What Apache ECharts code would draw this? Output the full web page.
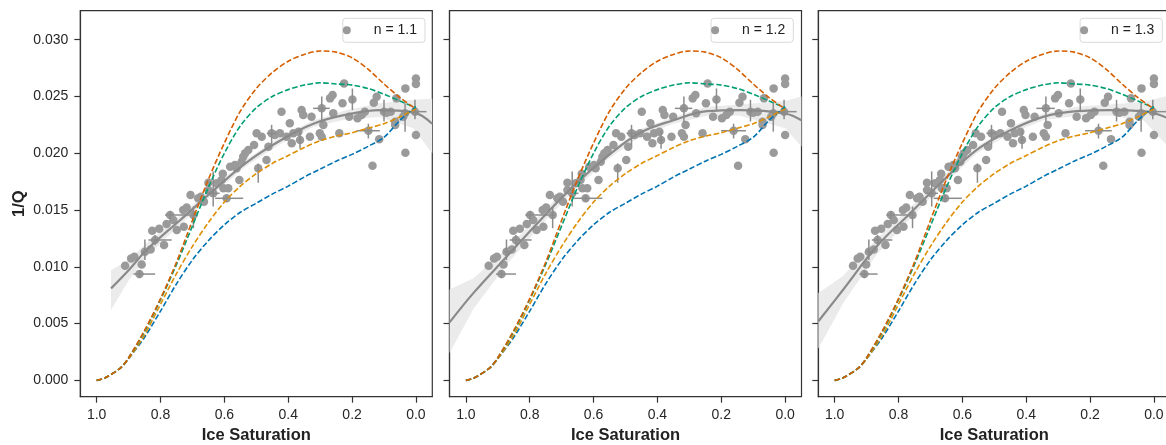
<!DOCTYPE html>
<html><head><meta charset="utf-8">
<script src="https://cdn.jsdelivr.net/npm/echarts@6/dist/echarts.min.js"></script>
<style>html,body{margin:0;padding:0;background:#fff}#c{width:1166px;height:445px}</style>
</head><body><div id="c"></div>
<script>
// ---------------- data ----------------
const nValues = [1.1, 1.2, 1.3];
const xTicks = [0, 0.2, 0.4, 0.6, 0.8, 1.0];
const yTicks = [0, 0.005, 0.010, 0.015, 0.020, 0.025, 0.030];

// measured points: ice saturation as plotted for n = 1.1, and 1/Q
const pointS = [0.911,0.892,0.882,0.859,0.866,0.849,0.831,0.826,0.804,0.817,0.789,0.781,0.770,0.760,0.749,0.727,0.729,0.718,0.706,0.697,
  0.682,0.674,0.664,0.650,0.650,0.635,0.624,0.609,0.605,0.603,0.593,0.588,0.582,0.567,0.562,0.553,0.546,0.541,0.535,0.525,
  0.507,0.499,0.494,0.483,0.468,0.462,0.452,0.442,0.426,0.421,0.405,0.395,0.389,0.384,0.368,0.363,0.358,0.353,0.327,0.332,
  0.295,0.290,0.301,0.295,0.269,0.261,0.259,0.240,0.230,0.225,0.209,0.199,0.183,0.170,0.160,0.149,0.136,0.132,0.123,0.115,
  0.100,0.092,0.079,0.065,0.065,0.061,0.033,0.033,0.034,0.000,0.000,0.000,0.003,0.040];
const pointQ = [0.01010,0.01074,0.01089,0.01021,0.00936,0.01133,0.01153,0.01318,0.01335,0.01236,0.01192,0.01377,0.01456,0.01412,0.01324,0.01353,0.01500,0.01523,0.01632,0.01456,
  0.01603,0.01617,0.01573,0.01740,0.01676,0.01647,0.01735,0.01764,0.01820,0.01691,0.01603,0.01691,0.01881,0.01896,0.01867,0.01764,0.01925,0.01969,0.01999,0.02028,
  0.02072,0.02175,0.01867,0.02145,0.01940,0.02057,0.02175,0.02160,0.02175,0.02366,0.02145,0.02263,0.02087,0.02175,0.02190,0.02116,0.02380,0.02336,0.02322,0.02145,
  0.02395,0.02248,0.02175,0.02145,0.02483,0.02512,0.02351,0.02175,0.02439,0.02615,0.02322,0.02474,0.02307,0.02336,0.02366,0.02198,0.01890,0.02445,0.02498,0.02122,
  0.02366,0.02357,0.02366,0.02278,0.02248,0.02483,0.02571,0.02005,0.02351,0.02659,0.02609,0.02160,0.02366,0.02322];

// error bars (point index, saturation range, 1/Q range)
const errIndex = [4, 5, 9, 12, 19, 25, 30, 42, 46, 55, 60, 71, 75, 80, 88, 92];
const errSMin  = [0.817,0.840,0.765,0.708,0.690,0.615,0.541,0.494,0.437,0.358,0.270,0.199,0.113,0.095,0.034,-0.033];
const errSMax  = [0.885,0.858,0.838,0.786,0.704,0.655,0.629,0.494,0.467,0.368,0.322,0.199,0.186,0.105,0.034,0.029];
const errQMin  = [0.0090,0.0106,0.0119,0.0142,0.0134,0.0153,0.0157,0.0174,0.0207,0.0204,0.0227,0.0238,0.0213,0.0228,0.0219,0.0230];
const errQMax  = [0.0097,0.0124,0.0128,0.0149,0.0153,0.0184,0.0163,0.0191,0.0225,0.0220,0.0250,0.0257,0.0226,0.0247,0.0244,0.0247];

// model curves (same in every panel)
const curveS = [1.0,0.975,0.925,0.9,0.85,0.8,0.75,0.7,0.65,0.6,0.55,0.5,0.45,0.4,0.35,0.3,0.25,0.2,0.15,0.1,0.05,0.0];
const curveBlue   = [0,0.0002,0.0011,0.0019,0.0038,0.0061,0.0085,0.0106,0.0123,0.0137,0.0148,0.0156,0.0164,0.0171,0.0179,0.0186,0.0193,0.0199,0.0206,0.0214,0.0229,0.0241];
const curveOrange = [0,0.0002,0.0011,0.0019,0.0040,0.0067,0.0094,0.0118,0.0139,0.0157,0.0171,0.0182,0.0191,0.0198,0.0205,0.0211,0.0215,0.0218,0.0222,0.0226,0.0232,0.0239];
const curveGreen  = [0,0.0002,0.0011,0.0020,0.0043,0.0071,0.0102,0.0136,0.0170,0.0200,0.0224,0.0240,0.0250,0.0256,0.0260,0.0262,0.0261,0.0260,0.0257,0.0252,0.0246,0.0240];
const curveRed    = [0,0.0002,0.0011,0.0020,0.0044,0.0072,0.0104,0.0141,0.0177,0.0209,0.0237,0.0257,0.0271,0.0281,0.0287,0.0290,0.0289,0.0284,0.0274,0.0261,0.0249,0.0239];

// regression line and confidence band per panel
const fit1S  = [0.955,0.90,0.843,0.739,0.635,0.530,0.426,0.321,0.217,0.113,0.008,-0.051];
const fit1Q  = [0.0081,0.0097,0.0115,0.0141,0.0167,0.0192,0.0211,0.0226,0.0234,0.0238,0.0236,0.0226];
const fit1Lo = [0.0062,0.0088,0.0109,0.0137,0.0164,0.0189,0.0208,0.0223,0.0230,0.0232,0.0222,0.0200];
const fit1Hi = [0.0097,0.0106,0.0121,0.0145,0.0170,0.0195,0.0214,0.0229,0.0238,0.0244,0.0247,0.0248];
const fit2S  = [1.051,0.976,0.872,0.767,0.663,0.558,0.454,0.35,0.245,0.141,0.0,-0.051];
const fit2Q  = [0.0051,0.0077,0.0109,0.0141,0.0171,0.0197,0.0218,0.0229,0.0237,0.0238,0.0235,0.0229];
const fit2Lo = [0.0024,0.0063,0.0102,0.0136,0.0167,0.0194,0.0215,0.0226,0.0233,0.0233,0.0222,0.0206];
const fit2Hi = [0.0080,0.0090,0.0116,0.0146,0.0175,0.0200,0.0221,0.0232,0.0241,0.0243,0.0246,0.0250];
const fit3S  = [1.051,0.973,0.868,0.764,0.66,0.555,0.451,0.347,0.242,0.138,0.033,-0.051];
const fit3Q  = [0.0052,0.0080,0.0118,0.0147,0.0176,0.0203,0.0220,0.0232,0.0237,0.0238,0.0237,0.0230];
const fit3Lo = [0.0028,0.0068,0.0111,0.0142,0.0172,0.0200,0.0217,0.0229,0.0233,0.0233,0.0229,0.0204];
const fit3Hi = [0.0077,0.0092,0.0125,0.0152,0.0180,0.0206,0.0223,0.0235,0.0241,0.0243,0.0245,0.0251];

// ---------------- chart ----------------
const fits = [[fit1S,fit1Q,fit1Lo,fit1Hi],[fit2S,fit2Q,fit2Lo,fit2Hi],[fit3S,fit3Q,fit3Lo,fit3Hi]];
// same measurements re-plotted with saturation exponent n (Archie): Sw scales as power n/1.1
function toPanel(s, n) { return 1 - Math.pow(1 - s, n / nValues[0]); }

const FONT = 'Liberation Sans, Arial, sans-serif';
const AX = '#333';
const gridBase = {top: 10.7, width: 352, height: 386, show: true, borderColor: AX, borderWidth: 1.2,
  containLabel: false, outerBoundsMode: 'none'};
const grids = [
  Object.assign({left: 80.3}, gridBase),
  Object.assign({left: 449.5}, gridBase),
  Object.assign({left: 818.3}, gridBase)
];
const legendRight = [741, 372.7, 3.7];

const xAxes = grids.map((g, i) => ({
  type: 'value', gridIndex: i, inverse: true, min: -0.0513, max: 1.0513,
  name: 'Ice Saturation', nameLocation: 'middle', nameGap: 28,
  nameTextStyle: {fontFamily: FONT, fontWeight: 'bold', fontSize: 16.5, color: '#222'},
  axisLine: {show: true, onZero: false, lineStyle: {color: AX, width: 1.2}},
  axisTick: {show: true, length: 6, customValues: xTicks, lineStyle: {color: AX, width: 1.2}},
  axisLabel: {customValues: xTicks, formatter: v => v.toFixed(1), margin: 11.5, fontSize: 14, color: '#262626', fontFamily: FONT, hideOverlap: false},
  splitLine: {show: false}
}));
const yAxes = grids.map((g, i) => ({
  type: 'value', gridIndex: i, min: -0.00144, max: 0.03255,
  name: i === 0 ? '1/Q' : '', nameLocation: 'middle', nameGap: 52,
  nameTextStyle: {fontFamily: FONT, fontWeight: 'bold', fontSize: 16.5, color: '#222'},
  axisLine: {show: true, onZero: false, lineStyle: {color: AX, width: 1.2}},
  axisTick: {show: true, length: 6, customValues: yTicks, lineStyle: {color: AX, width: 1.2}},
  axisLabel: {show: i === 0, customValues: yTicks, formatter: v => v.toFixed(3), margin: 12, fontSize: 14, color: '#262626', fontFamily: FONT},
  splitLine: {show: false}
}));

const series = [];
const curveDefs = [[curveBlue, '#0173b2'], [curveOrange, '#de8f05'], [curveGreen, '#029e73'], [curveRed, '#d55e00']];
nValues.forEach((n, p) => {
  const [fs, fq, flo, fhi] = fits[p];
  // confidence band
  series.push({
    type: 'custom', xAxisIndex: p, yAxisIndex: p, silent: true, z: 1,
    data: fs.map((s, i) => [s, flo[i], fhi[i]]),
    encode: {x: 0, y: [1, 2]},
    renderItem: (params, api) => {
      if (params.dataIndex !== 0) return null;
      const pts = [];
      for (let i = 0; i < fs.length; i++) pts.push(api.coord([fs[i], fhi[i]]));
      for (let i = fs.length - 1; i >= 0; i--) pts.push(api.coord([fs[i], flo[i]]));
      return {type: 'polygon', shape: {points: pts, smooth: 0}, style: {fill: '#ebebeb'}};
    }
  });
  // points
  series.push({
    name: 'n = ' + n.toFixed(1), type: 'scatter', xAxisIndex: p, yAxisIndex: p, z: 3,
    symbol: 'circle', symbolSize: 8.5,
    itemStyle: {color: '#9a9a9a', opacity: 1},
    data: pointS.map((s, i) => [toPanel(s, n), pointQ[i]])
  });
  // error bars
  series.push({
    type: 'custom', xAxisIndex: p, yAxisIndex: p, silent: true, z: 4,
    data: errIndex.map((idx, k) => [toPanel(pointS[idx], n), pointQ[idx], toPanel(errSMin[k], n), toPanel(errSMax[k], n), errQMin[k], errQMax[k]]),
    encode: {x: [0, 2, 3], y: [1, 4, 5]},
    renderItem: (params, api) => {
      const a = api.coord([api.value(2), api.value(1)]);
      const b = api.coord([api.value(3), api.value(1)]);
      const c = api.coord([api.value(0), api.value(4)]);
      const d = api.coord([api.value(0), api.value(5)]);
      const st = {stroke: '#8c8c8c', lineWidth: 1.5};
      return {type: 'group', children: [
        {type: 'line', shape: {x1: a[0], y1: a[1], x2: b[0], y2: b[1]}, style: st},
        {type: 'line', shape: {x1: c[0], y1: c[1], x2: d[0], y2: d[1]}, style: st}
      ]};
    }
  });
  // regression line
  series.push({
    type: 'line', xAxisIndex: p, yAxisIndex: p, z: 5, silent: true, showSymbol: false, smooth: 0.4,
    lineStyle: {color: '#8a8a8a', width: 2.2},
    data: fs.map((s, i) => [s, fq[i]])
  });
  // model curves
  curveDefs.forEach(([vals, col]) => {
    series.push({
      type: 'line', xAxisIndex: p, yAxisIndex: p, z: 6, silent: true, showSymbol: false, smooth: 0.3,
      lineStyle: {color: col, width: 1.6, type: [5.5, 2.4]},
      data: curveS.map((s, i) => [s, vals[i]])
    });
  });
});

const legends = nValues.map((n, p) => ({
  data: ['n = ' + n.toFixed(1)], right: legendRight[p], top: 18.3, orient: 'horizontal',
  selectedMode: false, icon: 'circle', itemWidth: 44, itemHeight: 8,
  padding: [5, 8, 5, 0], borderColor: '#d9d9d9', borderWidth: 1, borderRadius: 3,
  backgroundColor: '#fff',
  textStyle: {fontSize: 14, color: '#222', fontFamily: FONT}
}));

const chart = echarts.init(document.getElementById('c'), null, {renderer: 'canvas'});
chart.setOption({
  animation: false, backgroundColor: '#fff',
  grid: grids, xAxis: xAxes, yAxis: yAxes, legend: legends, series: series
});
</script></body></html>
